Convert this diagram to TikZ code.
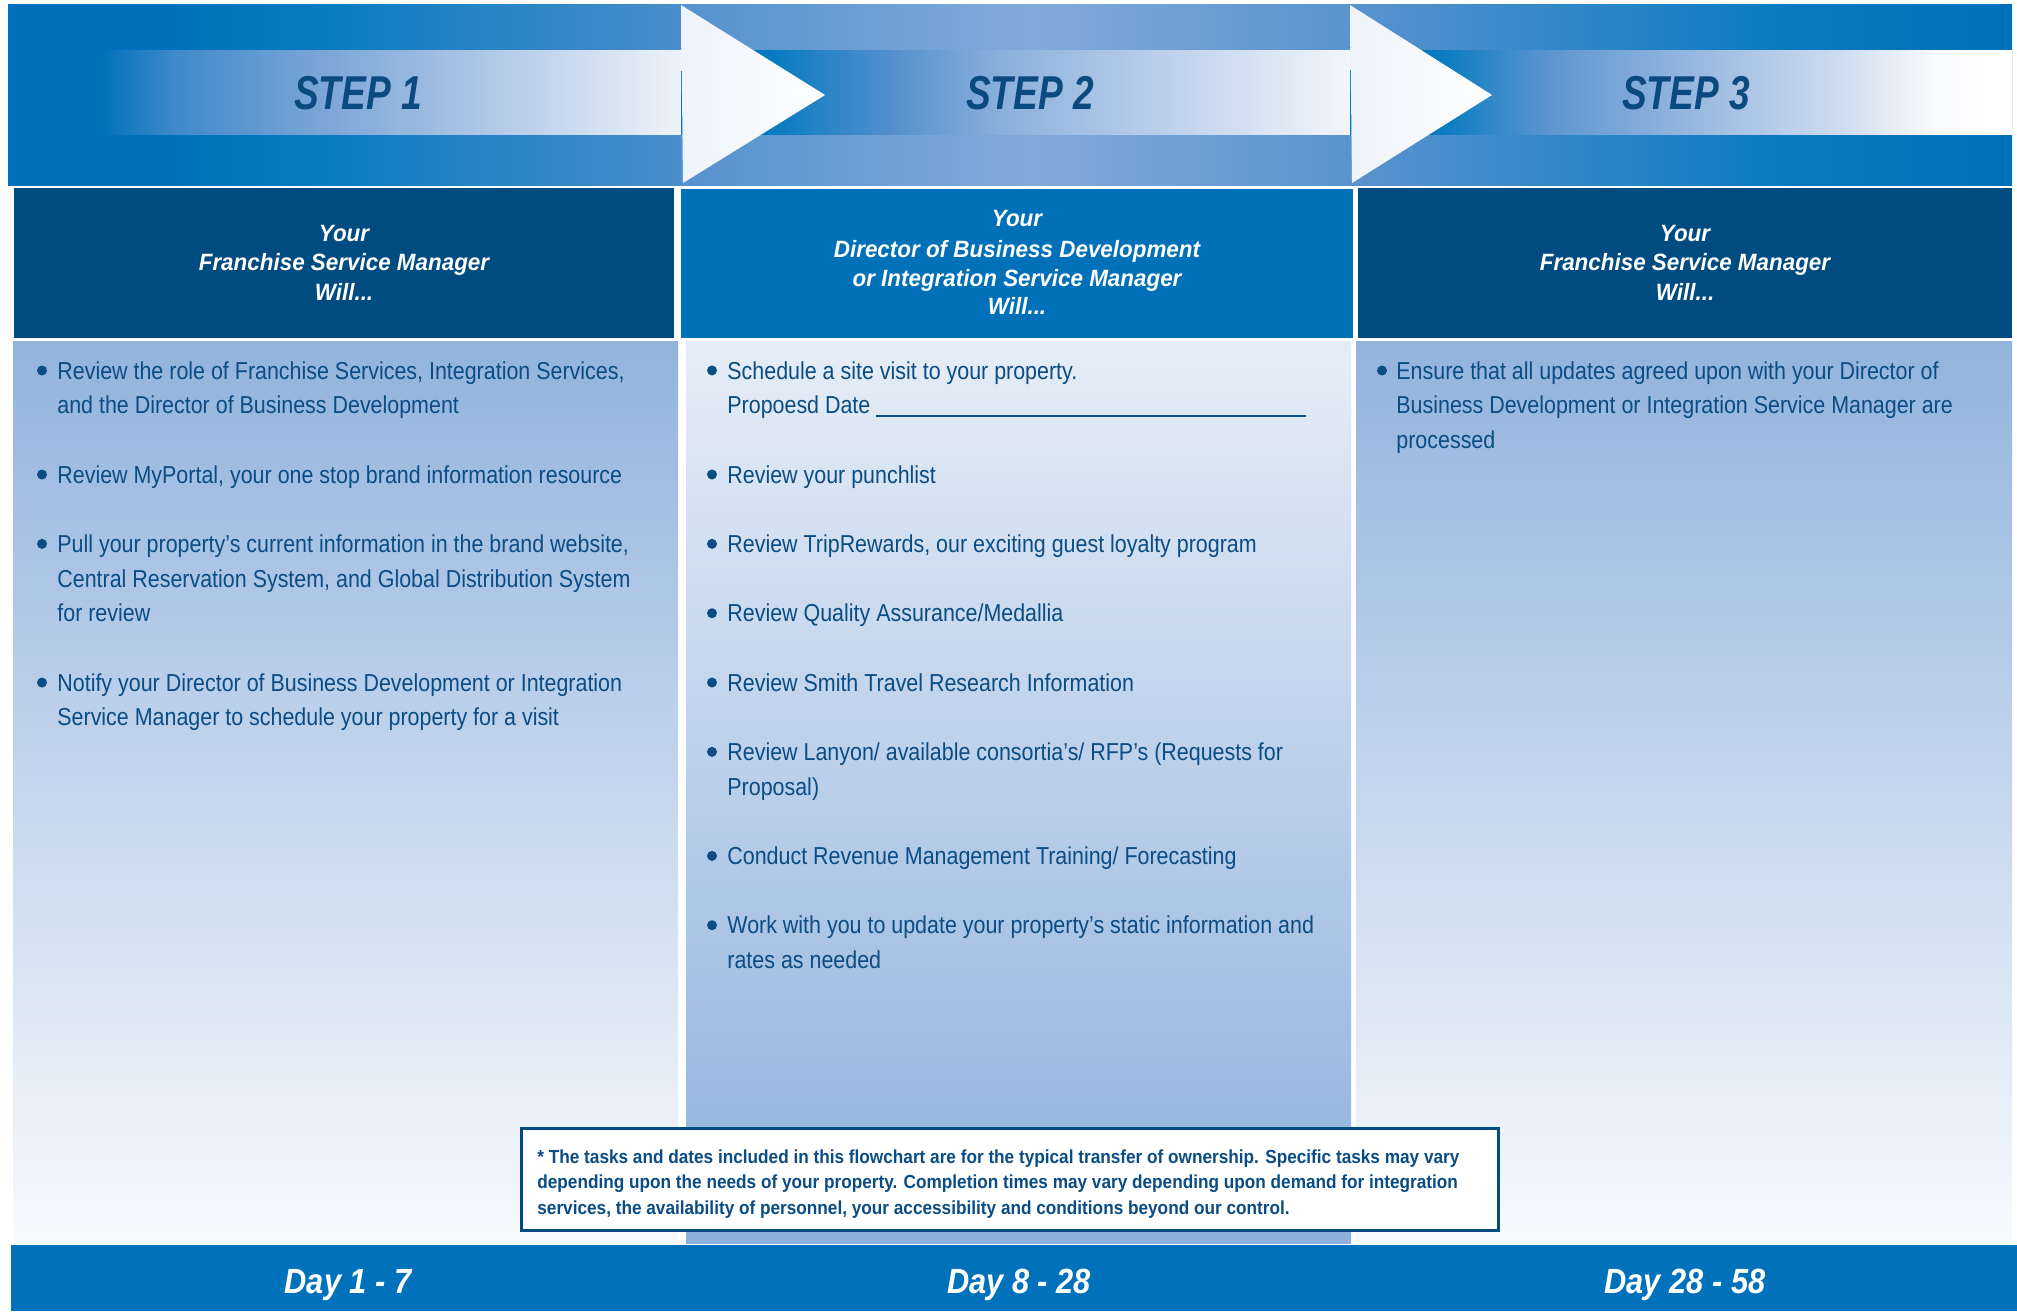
\documentclass[tikz,border=0pt]{standalone}
\usepackage{fontspec}
\newfontfamily\bodyf[FakeStretch=0.875]{Liberation Sans}
\newfontfamily\headf[FakeStretch=0.95]{Liberation Sans}
\newfontfamily\stepf[FakeStretch=0.78]{Liberation Sans}
\newfontfamily\dayf[FakeStretch=0.88]{Liberation Sans}
\newfontfamily\footf[FakeStretch=0.91]{Liberation Sans}
\definecolor{navy}{HTML}{004B7F}
\definecolor{txtnavy}{HTML}{0A4C84}
\definecolor{stepnavy}{HTML}{0A4A7F}
\definecolor{hblue}{HTML}{0070B8}
\definecolor{barblue}{HTML}{0071BB}
\definecolor{bA}{HTML}{0071BA}
\definecolor{bB}{HTML}{0A7CC2}
\definecolor{bC}{HTML}{4A8ECB}
\definecolor{bD}{HTML}{5592CF}
\definecolor{bE}{HTML}{82AADA}
\definecolor{bF}{HTML}{5A93CF}
\definecolor{bG}{HTML}{2E86C8}
\definecolor{bH}{HTML}{0A7BC2}
\definecolor{sA}{HTML}{0074BC}
\definecolor{sB}{HTML}{3F8ACA}
\definecolor{sC}{HTML}{7AA5D7}
\definecolor{sD}{HTML}{AEC6E6}
\definecolor{sE}{HTML}{EEF3FA}
\definecolor{tA}{HTML}{0078C0}
\definecolor{tB}{HTML}{5590CD}
\definecolor{tC}{HTML}{8AB0DC}
\definecolor{tD}{HTML}{C6D6EE}
\definecolor{tE}{HTML}{F2F6FB}
\definecolor{uB}{HTML}{5E96D0}
\definecolor{uC}{HTML}{9FBDE2}
\definecolor{uD}{HTML}{CFDDF0}
\definecolor{uE}{HTML}{FAFBFD}
\definecolor{colblue}{HTML}{92B3DD}
\definecolor{colpale}{HTML}{F8FAFD}
\definecolor{colpaleB}{HTML}{E6EDF7}
\definecolor{colblueB}{HTML}{8DB0DC}
\begin{document}
\begin{tikzpicture}[x=0.5pt,y=-0.5pt,
  bodytxt/.style={anchor=base west,inner sep=0pt,text=txtnavy,font=\bodyf\fontsize{12.25}{14}\selectfont},
  headtxt/.style={anchor=base,inner sep=0pt,text=white,font=\headf\bfseries\itshape\fontsize{11.8}{14}\selectfont},
  steptxt/.style={anchor=base,inner sep=0pt,text=stepnavy,font=\stepf\bfseries\itshape\fontsize{23.75}{28}\selectfont},
  daytxt/.style={anchor=base,inner sep=0pt,text=white,font=\dayf\bfseries\itshape\fontsize{17.5}{20}\selectfont},
  foottxt/.style={anchor=base west,inner sep=0pt,text=txtnavy,font=\footf\bfseries\fontsize{9.45}{12}\selectfont},
  bul/.style={fill=txtnavy},
  arrowhd/.style={left color=sE,right color=white}
]
\useasboundingbox (0,0) rectangle (2017,1311);
\fill[white] (0,0) rectangle (2017,1311);
% ---------- top banner: outer band ----------
\shade[left color=bA,right color=bA] (8,5) rectangle (171,185);
\shade[left color=bA,right color=bB] (170,5) rectangle (331,185);
\shade[left color=bB,right color=bC] (330,5) rectangle (682,185);
\shade[left color=bD,right color=bE] (681,5) rectangle (1031,185);
\shade[left color=bE,right color=bF] (1030,5) rectangle (1351,185);
\shade[left color=bF,right color=bG] (1350,5) rectangle (1585,185);
\shade[left color=bG,right color=bH] (1584,5) rectangle (1779,185);
\shade[left color=bH,right color=bA] (1778,5) rectangle (2012,185);
% ---------- shaft 1 ----------
\shade[left color=bA,right color=bA] (8,51) rectangle (101,134);
\shade[left color=bA,right color=sB] (100,51) rectangle (176,134);
\shade[left color=sB,right color=sC] (175,51) rectangle (321,134);
\shade[left color=sC,right color=sD] (320,51) rectangle (481,134);
\shade[left color=sD,right color=sE] (480,51) rectangle (682,134);
% ---------- shaft 2 ----------
\shade[left color=tA,right color=tA] (681,51) rectangle (761,134);
\shade[left color=tA,right color=tB] (760,51) rectangle (894,134);
\shade[left color=tB,right color=tC] (893,51) rectangle (1001,134);
\shade[left color=tC,right color=tD] (1000,51) rectangle (1196,134);
\shade[left color=tD,right color=tE] (1195,51) rectangle (1351,134);
% ---------- shaft 3 ----------
\shade[left color=tA,right color=tA] (1350,51) rectangle (1429,134);
\shade[left color=tA,right color=uB] (1428,51) rectangle (1552,134);
\shade[left color=uB,right color=uC] (1551,51) rectangle (1714,134);
\shade[left color=uC,right color=uD] (1713,51) rectangle (1844,134);
\shade[left color=uD,right color=uE] (1843,51) rectangle (1935,134);
\shade[left color=uE,right color=white] (1934,51) rectangle (2012,134);
% ---------- arrow heads ----------
\shade[arrowhd] (681,5) -- (825,95) -- (683,183) -- cycle;
\shade[arrowhd] (1350,5) -- (1492,95) -- (1352,183) -- cycle;
% ---------- step labels ----------
\node[steptxt] (step1) at (358,110) {STEP 1};
\node[steptxt] (step2) at (1030,110) {STEP 2};
\node[steptxt] (step3) at (1686,110) {STEP 3};
% ---------- headers ----------
\fill[navy] (14,188) rectangle (674,338);
\fill[hblue] (681,189) rectangle (1353,338);
\fill[navy] (1358,188) rectangle (2012,338);
\node[headtxt] (h1a) at (344,241) {Your};
\node[headtxt] (h1b) at (344,270) {Franchise Service Manager};
\node[headtxt] (h1c) at (344,300) {Will...};
\node[headtxt] (h2a) at (1017,226) {Your};
\node[headtxt] (h2b) at (1017,257) {Director of Business Development};
\node[headtxt] (h2c) at (1017,286) {or Integration Service Manager};
\node[headtxt] (h2d) at (1017,314) {Will...};
\node[headtxt] (h3a) at (1685,241) {Your};
\node[headtxt] (h3b) at (1685,270) {Franchise Service Manager};
\node[headtxt] (h3c) at (1685,300) {Will...};
% ---------- column bodies ----------
\shade[top color=colblue,bottom color=colpale] (13,341) rectangle (678,1243);
\shade[top color=colpaleB,bottom color=colblueB] (686,341) rectangle (1351,1243);
\shade[top color=colblue,bottom color=colpale] (1356,341) rectangle (2012,1243);
% ---------- column 1 ----------
\fill[bul] (42,370.5) circle[radius=2.5pt];
\node[bodytxt] (c1l0) at (57,379) {Review the role of Franchise Services, Integration Services,};
\node[bodytxt] (c1l1) at (57,413.67) {and the Director of Business Development};
\fill[bul] (42,474.5) circle[radius=2.5pt];
\node[bodytxt] (c1l3) at (57,483.01) {Review MyPortal, your one stop brand information resource};
\fill[bul] (42,543.85) circle[radius=2.5pt];
\node[bodytxt] (c1l5) at (57,552.35) {Pull your property’s current information in the brand website,};
\node[bodytxt] (c1l6) at (57,587.02) {Central Reservation System, and Global Distribution System};
\node[bodytxt] (c1l7) at (57,621.69) {for review};
\fill[bul] (42,682.53) circle[radius=2.5pt];
\node[bodytxt] (c1l9) at (57,691.03) {Notify your Director of Business Development or Integration};
\node[bodytxt] (c1l10) at (57,725.7) {Service Manager to schedule your property for a visit};
% ---------- column 2 ----------
\fill[bul] (712,370.5) circle[radius=2.5pt];
\node[bodytxt] (c2l0) at (727,379) {Schedule a site visit to your property.};
\node[bodytxt] (c2l1) at (727,413.67) {Propoesd Date\hspace{3pt}\rule[-1.5pt]{215pt}{0.8pt}};
\fill[bul] (712,474.5) circle[radius=2.5pt];
\node[bodytxt] (c2l3) at (727,483.01) {Review your punchlist};
\fill[bul] (712,543.85) circle[radius=2.5pt];
\node[bodytxt] (c2l5) at (727,552.35) {Review TripRewards, our exciting guest loyalty program};
\fill[bul] (712,613.19) circle[radius=2.5pt];
\node[bodytxt] (c2l7) at (727,621.69) {Review Quality Assurance/Medallia};
\fill[bul] (712,682.53) circle[radius=2.5pt];
\node[bodytxt] (c2l9) at (727,691.03) {Review Smith Travel Research Information};
\fill[bul] (712,751.87) circle[radius=2.5pt];
\node[bodytxt] (c2l11) at (727,760.37) {Review Lanyon/ available consortia’s/ RFP’s (Requests for};
\node[bodytxt] (c2l12) at (727,795.04) {Proposal)};
\fill[bul] (712,855.88) circle[radius=2.5pt];
\node[bodytxt] (c2l14) at (727,864.38) {Conduct Revenue Management Training/ Forecasting};
\fill[bul] (712,925.22) circle[radius=2.5pt];
\node[bodytxt] (c2l16) at (727,933.72) {Work with you to update your property’s static information and};
\node[bodytxt] (c2l17) at (727,968.39) {rates as needed};
% ---------- column 3 ----------
\fill[bul] (1382,370.5) circle[radius=2.5pt];
\node[bodytxt] (c3l0) at (1396,379) {Ensure that all updates agreed upon with your Director of};
\node[bodytxt] (c3l1) at (1396,413.67) {Business Development or Integration Service Manager are};
\node[bodytxt] (c3l2) at (1396,448.34) {processed};
% ---------- footnote ----------
\draw[navy,line width=1.5pt,fill=white] (521,1128) rectangle (1498,1230);
\node[foottxt] (f1) at (537,1163) {* The tasks and dates included in this flowchart are for the typical transfer of ownership. Specific tasks may vary};
\node[foottxt] (f2) at (537,1188) {depending upon the needs of your property. Completion times may vary depending upon demand for integration};
\node[foottxt] (f3) at (537,1214) {services, the availability of personnel, your accessibility and conditions beyond our control.};
% ---------- bottom bar ----------
\fill[barblue] (11,1245) rectangle (2017,1311);
\node[daytxt] (d1) at (348,1293) {Day 1 - 7};
\node[daytxt] (d2) at (1019,1293) {Day 8 - 28};
\node[daytxt] (d3) at (1685,1293) {Day 28 - 58};
\end{tikzpicture}
\end{document}
